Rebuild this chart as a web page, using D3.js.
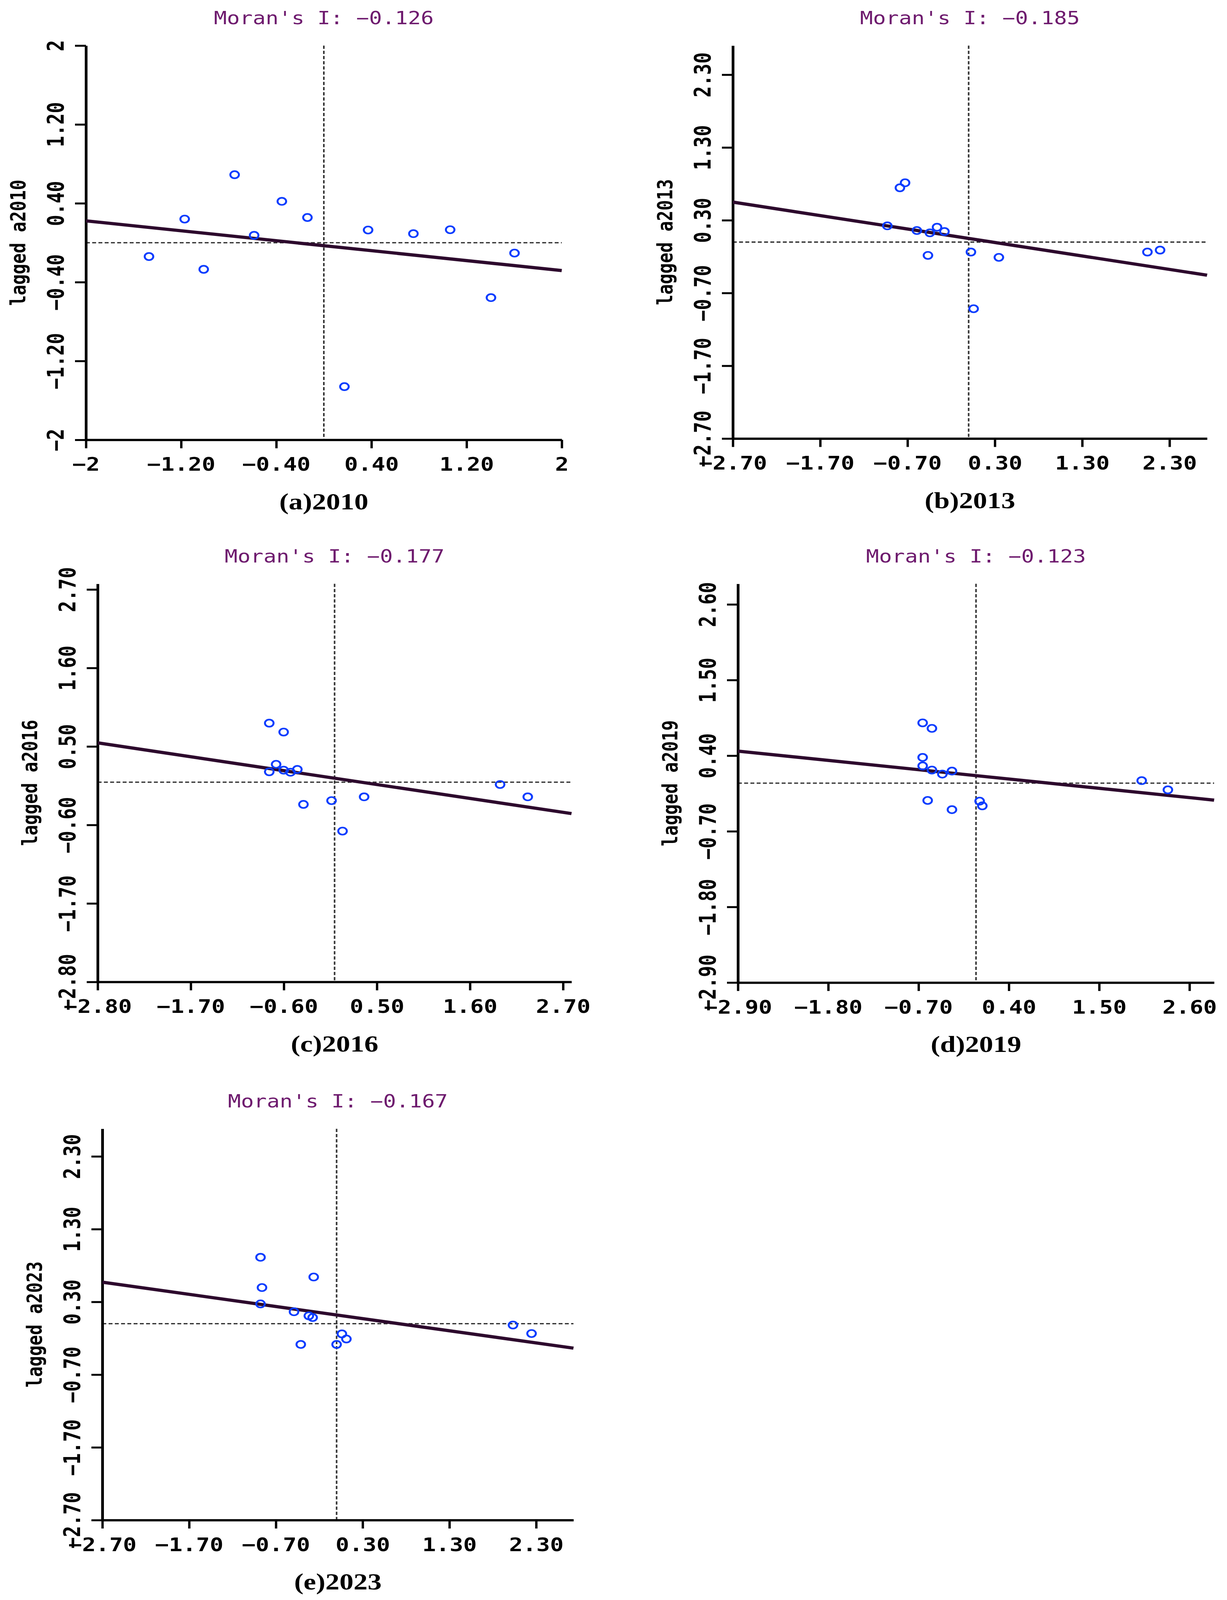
<!DOCTYPE html>
<html>
<head>
<meta charset="utf-8">
<script src="https://cdn.jsdelivr.net/npm/d3@7"></script>
<style>
  html, body { margin: 0; padding: 0; width: 100%; height: 100%; overflow: hidden; background: #fff; }
  #chart { position: fixed; left: 0; top: 0; width: 100vw; height: 100vh; display: block; }
  .tick-label { font-family: "DejaVu Sans Mono", monospace; font-weight: bold; font-size: 58px; fill: #000; }
  .moran { font-family: "DejaVu Sans Mono", monospace; font-size: 55px; fill: #6e1a6e; }
  .y-title { font-family: "DejaVu Sans Mono", monospace; font-weight: bold; font-size: 54px; fill: #000; }
  .caption { font-family: "Liberation Serif", "Times New Roman", serif; font-weight: bold; font-size: 72px; fill: #000; }
</style>
</head>
<body>
<svg id="chart"></svg>
<script>
// panel data
const years = [2010, 2013, 2016, 2019, 2023];
const captions = ["(a)2010", "(b)2013", "(c)2016", "(d)2019", "(e)2023"];
const moransI = [-0.126, -0.185, -0.177, -0.123, -0.167];
const intercepts = [-0.03, 0.05, 0.055, 0.11, 0.12];

const x2010 = [-1.47, -1.17, -1.01, -0.75, -0.586, -0.353, -0.138, 0.173, 0.372, 0.753, 1.062, 1.405, 1.603];
const lag2010 = [-0.14, 0.24, -0.27, 0.69, 0.075, 0.42, 0.256, -1.46, 0.129, 0.092, 0.132, -0.557, -0.105];
const x2013 = [-0.931, -0.787, -0.728, -0.593, -0.444, -0.466, -0.362, -0.277, 0.026, 0.057, 0.346, 2.047, 2.192];
const lag2013 = [0.223, 0.746, 0.815, 0.159, 0.127, -0.183, 0.204, 0.145, -0.137, -0.916, -0.21, -0.137, -0.11];
const x2016 = [-0.772, -0.602, -0.691, -0.772, -0.602, -0.521, -0.44, -0.368, -0.036, 0.094, 0.349, 1.956, 2.283];
const lag2016 = [0.827, 0.702, 0.25, 0.145, 0.168, 0.139, 0.178, -0.312, -0.259, -0.686, -0.206, -0.033, -0.206];
const x2019 = [-0.65, -0.537, -0.65, -0.65, -0.537, -0.41, -0.293, -0.589, -0.293, 0.044, 0.077, 2.018, 2.337];
const lag2019 = [0.877, 0.797, 0.375, 0.251, 0.191, 0.132, 0.176, -0.251, -0.385, -0.261, -0.33, 0.037, -0.097];
const x2023 = [-0.877, -0.86, -0.877, -0.264, -0.491, -0.32, -0.276, -0.413, 0.0, 0.061, 0.113, 2.033, 2.247];
const lag2023 = [0.913, 0.497, 0.272, 0.642, 0.164, 0.108, 0.085, -0.285, -0.285, -0.14, -0.21, -0.018, -0.135];

const xDomains = [[-2, 2], [-2.7, 2.73], [-2.8, 2.8], [-2.9, 2.9], [-2.7, 2.73]];
const yDomains = [[-2, 2], [-2.7, 2.7], [-2.8, 2.78], [-2.9, 2.9], [-2.7, 2.68]];

const ticks2010 = [-2, -1.2, -0.4, 0.4, 1.2, 2];
const tickLabels2010 = ["−2", "−1.20", "−0.40", "0.40", "1.20", "2"];
const ticks2013 = [-2.7, -1.7, -0.7, 0.3, 1.3, 2.3];
const tickLabels2013 = ["−2.70", "−1.70", "−0.70", "0.30", "1.30", "2.30"];
const ticks2016 = [-2.8, -1.7, -0.6, 0.5, 1.6, 2.7];
const tickLabels2016 = ["−2.80", "−1.70", "−0.60", "0.50", "1.60", "2.70"];
const ticks2019 = [-2.9, -1.8, -0.7, 0.4, 1.5, 2.6];
const tickLabels2019 = ["−2.90", "−1.80", "−0.70", "0.40", "1.50", "2.60"];
const ticks2023 = ticks2013;
const tickLabels2023 = tickLabels2013;

const xValues = [x2010, x2013, x2016, x2019, x2023];
const lagValues = [lag2010, lag2013, lag2016, lag2019, lag2023];
const tickValues = [ticks2010, ticks2013, ticks2016, ticks2019, ticks2023];
const tickLabels = [tickLabels2010, tickLabels2013, tickLabels2016, tickLabels2019, tickLabels2023];

// layout of each plot box
const boxes = [
  { left: 220, top: 141, right: 1438, bottom: 1360 },
  { left: 1876, top: 141, right: 3090, bottom: 1356 },
  { left: 250, top: 1805, right: 1463, bottom: 3036 },
  { left: 1889, top: 1805, right: 3108, bottom: 3038 },
  { left: 262, top: 3490, right: 1468, bottom: 4700 }
];

const width = 3141;
const height = 4947;

// fit the whole figure into whatever viewport we get
const svg = d3.select('#chart')
  .attr('viewBox', `0 0 ${width} ${height}`)
  .attr('preserveAspectRatio', 'none');

svg.append('rect')
  .attr('width', width)
  .attr('height', height)
  .attr('fill', '#fff');

function drawPanel(i) {
  const box = boxes[i];
  const xScale = d3.scaleLinear().domain(xDomains[i]).range([box.left, box.right]);
  const yScale = d3.scaleLinear().domain(yDomains[i]).range([box.bottom, box.top]);
  const g = svg.append('g').attr('class', 'panel');
  const labels = tickLabels[i];
  const mid = (box.left + box.right) / 2;

  // dashed zero lines
  g.append('line')
    .attr('x1', xScale(0)).attr('x2', xScale(0))
    .attr('y1', box.top).attr('y2', box.bottom)
    .attr('stroke', '#333').attr('stroke-width', 4)
    .attr('stroke-dasharray', '10 6');
  g.append('line')
    .attr('x1', box.left).attr('x2', box.right)
    .attr('y1', yScale(0)).attr('y2', yScale(0))
    .attr('stroke', '#333').attr('stroke-width', 4)
    .attr('stroke-dasharray', '10 6');

  // axes
  const yAxis = d3.axisLeft(yScale)
    .tickValues(tickValues[i])
    .tickFormat((d, k) => labels[k])
    .tickSize(28)
    .tickSizeOuter(0);
  const xAxis = d3.axisBottom(xScale)
    .tickValues(tickValues[i])
    .tickFormat((d, k) => labels[k])
    .tickSize(26)
    .tickSizeOuter(0);

  const gy = g.append('g')
    .attr('transform', `translate(${box.left}, 0)`)
    .call(yAxis);
  const gx = g.append('g')
    .attr('transform', `translate(0, ${box.bottom})`)
    .call(xAxis);

  [gx, gy].forEach((ax) => {
    ax.attr('font-family', null).attr('font-size', null);
    ax.select('.domain').attr('stroke', '#000').attr('stroke-width', 7);
    ax.selectAll('.tick line').attr('stroke', '#000').attr('stroke-width', 6);
    ax.selectAll('.tick text').attr('class', 'tick-label').attr('fill', null);
  });

  gy.selectAll('.tick text')
    .attr('x', null)
    .attr('dy', null)
    .attr('text-anchor', 'middle')
    .attr('dominant-baseline', 'central')
    .attr('transform', 'translate(-77, 0) rotate(-90)');

  gx.selectAll('.tick text')
    .attr('y', 76)
    .attr('dy', null)
    .attr('dominant-baseline', 'central');

  // regression line
  const slope = moransI[i];
  const b = intercepts[i];
  const xd = xDomains[i];
  g.append('line')
    .attr('x1', xScale(xd[0])).attr('y1', yScale(slope * xd[0] + b))
    .attr('x2', xScale(xd[1])).attr('y2', yScale(slope * xd[1] + b))
    .attr('stroke', '#2d0a2d').attr('stroke-width', 10);

  // points
  g.selectAll('circle')
    .data(xValues[i].map((v, k) => [v, lagValues[i][k]]))
    .enter()
    .append('circle')
    .attr('cx', (d) => xScale(d[0]))
    .attr('cy', (d) => yScale(d[1]))
    .attr('r', 11)
    .attr('fill', 'none')
    .attr('stroke', '#0a3cff')
    .attr('stroke-width', 5);

  // titles
  g.append('text')
    .attr('class', 'moran')
    .attr('text-anchor', 'middle')
    .attr('x', mid)
    .attr('y', box.top - 66)
    .text(`Moran's I: ${moransI[i].toFixed(3).replace('-', '−')}`);

  g.append('text')
    .attr('class', 'y-title')
    .attr('text-anchor', 'middle')
    .attr('dominant-baseline', 'central')
    .attr('transform', `translate(${box.left - 174}, ${(box.top + box.bottom) / 2}) rotate(-90)`)
    .text(`lagged a${years[i]}`);

  g.append('text')
    .attr('class', 'caption')
    .attr('text-anchor', 'middle')
    .attr('x', mid)
    .attr('y', box.bottom + 215)
    .text(captions[i]);
}

years.forEach((y, i) => drawPanel(i));
</script>
</body>
</html>
